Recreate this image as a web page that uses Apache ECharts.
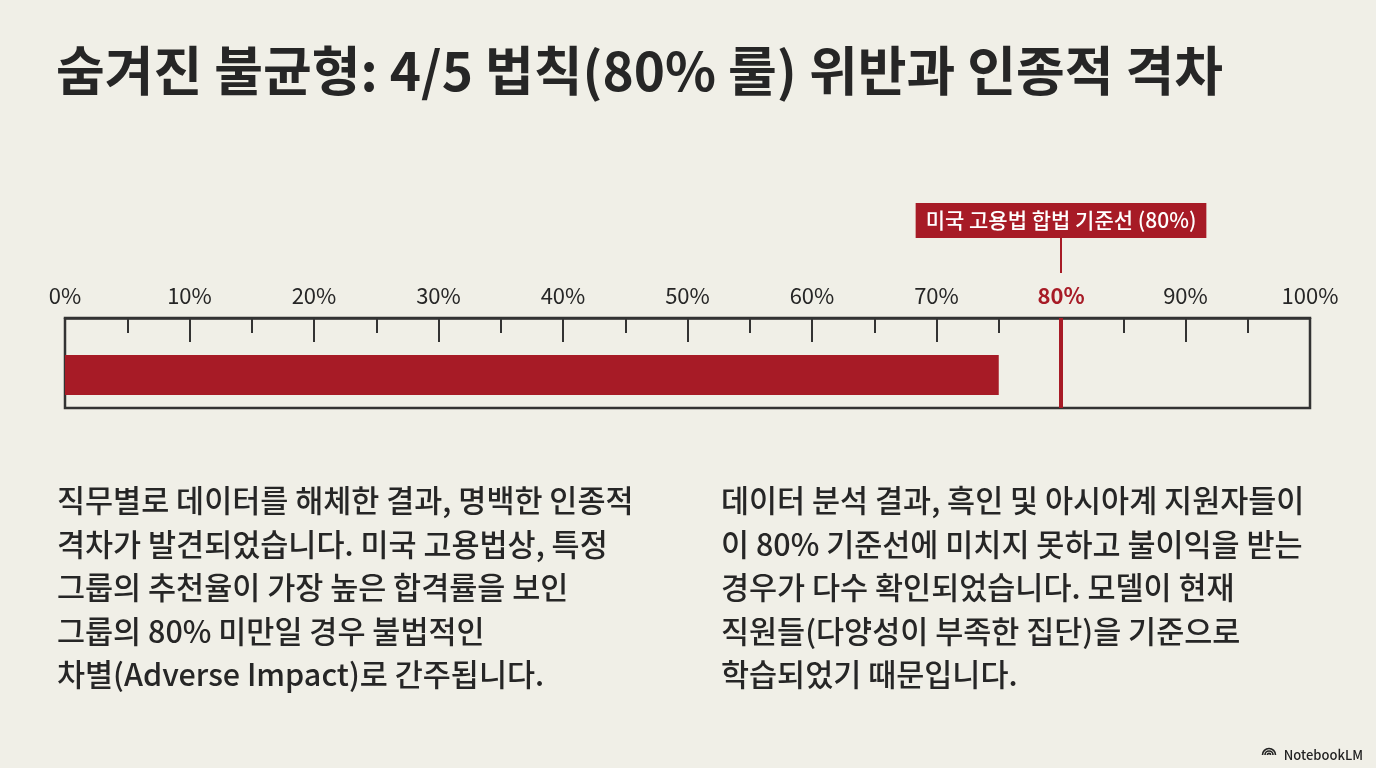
<!DOCTYPE html>
<html>
<head>
<meta charset="utf-8">
<script src="https://cdn.jsdelivr.net/npm/echarts@6/dist/echarts.min.js"></script>
<style>
  html, body { margin: 0; padding: 0; background: #f0efe7; }
  #chart_container { width: 1376px; height: 768px; }
</style>
</head>
<body>
<div id="chart_container"></div>
<script>
// data
var rateTicks = [0, 10, 20, 30, 40, 50, 60, 70, 80, 90, 100];
var groupNames = ['대상 그룹'];
var groupRates = [75];
var thresholdValue = 80;
var thresholdName = '미국 고용법 합법 기준선 (80%)';

var titleText = '숨겨진 불균형: 4/5 법칙(80% 룰) 위반과 인종적 격차';
var leftText = [
    '직무별로 데이터를 해체한 결과, 명백한 인종적',
    '격차가 발견되었습니다. 미국 고용법상, 특정',
    '그룹의 추천율이 가장 높은 합격률을 보인',
    '그룹의 80% 미만일 경우 불법적인',
    '차별(Adverse Impact)로 간주됩니다.'
];
var rightText = [
    '데이터 분석 결과, 흑인 및 아시아계 지원자들이',
    '이 80% 기준선에 미치지 못하고 불이익을 받는',
    '경우가 다수 확인되었습니다. 모델이 현재',
    '직원들(다양성이 부족한 집단)을 기준으로',
    '학습되었기 때문입니다.'
];

var RED = '#a71b26';
var INK = '#262626';
var FONT = '"Noto Sans CJK KR", "Noto Sans", sans-serif';

function render_chart() {
    var dom = document.getElementById('chart_container');
    var myChart = echarts.init(dom);
    var option = {
        backgroundColor: '#f0efe7',
        animation: false,
        textStyle: { fontFamily: FONT },
        title: [
            {
                text: titleText,
                left: 51, top: 39,
                textStyle: { fontSize: 53, fontWeight: 'bold', color: INK, fontFamily: FONT }
            },
            {
                text: leftText.join('\n'),
                left: 52, top: 474,
                textStyle: { fontSize: 30.5, fontWeight: 500, color: INK, lineHeight: 43.5, fontFamily: FONT }
            },
            {
                text: rightText.join('\n'),
                left: 716, top: 474,
                textStyle: { fontSize: 30.5, fontWeight: 500, color: INK, lineHeight: 43.5, fontFamily: FONT }
            },
            {
                text: 'NotebookLM',
                right: 8, top: 744,
                textStyle: { fontSize: 13, fontWeight: 500, color: '#222', fontFamily: FONT }
            }
        ],
        graphic: [
            {
                // small NotebookLM mark
                type: 'group', right: 98, top: 746,
                children: [
                    { type: 'arc', shape: { cx: 7, cy: 11, r: 6.5, startAngle: Math.PI, endAngle: 2 * Math.PI }, style: { stroke: '#222', lineWidth: 1.6, fill: null } },
                    { type: 'arc', shape: { cx: 7, cy: 11, r: 4, startAngle: Math.PI, endAngle: 2 * Math.PI }, style: { stroke: '#222', lineWidth: 1.6, fill: null } },
                    { type: 'arc', shape: { cx: 7, cy: 11, r: 1.6, startAngle: Math.PI, endAngle: 2 * Math.PI }, style: { stroke: '#222', lineWidth: 1.6, fill: null } }
                ]
            }
        ],
        grid: [
            // ruler box
            { left: 65, right: 66, top: 318, height: 90, show: true, borderColor: '#333', borderWidth: 2.5, backgroundColor: 'transparent' },
            // bar band
            { left: 65, right: 66, top: 355, height: 40 },
            // threshold callout
            { left: 65, right: 66, top: 238, height: 35 }
        ],
        xAxis: [
            {
                gridIndex: 0, type: 'value', position: 'top',
                min: 0, max: 100, interval: 10,
                axisLine: { show: true, onZero: false, lineStyle: { color: '#333', width: 2.5 } },
                axisTick: { show: true, inside: true, length: 24, lineStyle: { color: '#333', width: 2 } },
                minorTick: { show: true, splitNumber: 2, length: 15, lineStyle: { color: '#333', width: 2 } },
                splitLine: { show: false },
                axisLabel: {
                    margin: 11, fontSize: 22, color: INK, fontFamily: FONT,
                    formatter: function (v) {
                        return v === thresholdValue ? '{hi|' + v + '%}' : v + '%';
                    },
                    rich: { hi: { color: RED, fontWeight: 'bold', fontSize: 22, fontFamily: FONT } }
                }
            },
            { gridIndex: 1, type: 'value', min: 0, max: 100, show: false },
            { gridIndex: 2, type: 'value', min: 0, max: 100, show: false }
        ],
        yAxis: [
            { gridIndex: 0, type: 'value', min: 0, max: 1, show: false },
            { gridIndex: 1, type: 'category', data: groupNames, show: false },
            { gridIndex: 2, type: 'value', min: 0, max: 1, show: false }
        ],
        series: [
            {
                type: 'bar',
                xAxisIndex: 1, yAxisIndex: 1,
                data: groupRates,
                barWidth: '100%',
                itemStyle: { color: RED },
                silent: true
            },
            {
                // threshold line through the ruler
                type: 'line', xAxisIndex: 0, yAxisIndex: 0, data: [],
                markLine: {
                    silent: true, symbol: 'none',
                    lineStyle: { color: RED, width: 4, type: 'solid' },
                    label: { show: false },
                    data: [{ xAxis: thresholdValue }]
                }
            },
            {
                // connector + callout label
                type: 'line', xAxisIndex: 2, yAxisIndex: 2, data: [],
                markLine: {
                    silent: true, symbol: 'none',
                    lineStyle: { color: RED, width: 2, type: 'solid' },
                    label: {
                        show: true, position: 'end', distance: 0,
                        formatter: thresholdName,
                        color: '#fff', fontSize: 21, fontWeight: 500, fontFamily: FONT,
                        backgroundColor: RED,
                        padding: [7, 10, 7, 10]
                    },
                    data: [{ xAxis: thresholdValue }]
                }
            }
        ]
    };
    myChart.setOption(option, true);
}
render_chart();
</script>
</body>
</html>
